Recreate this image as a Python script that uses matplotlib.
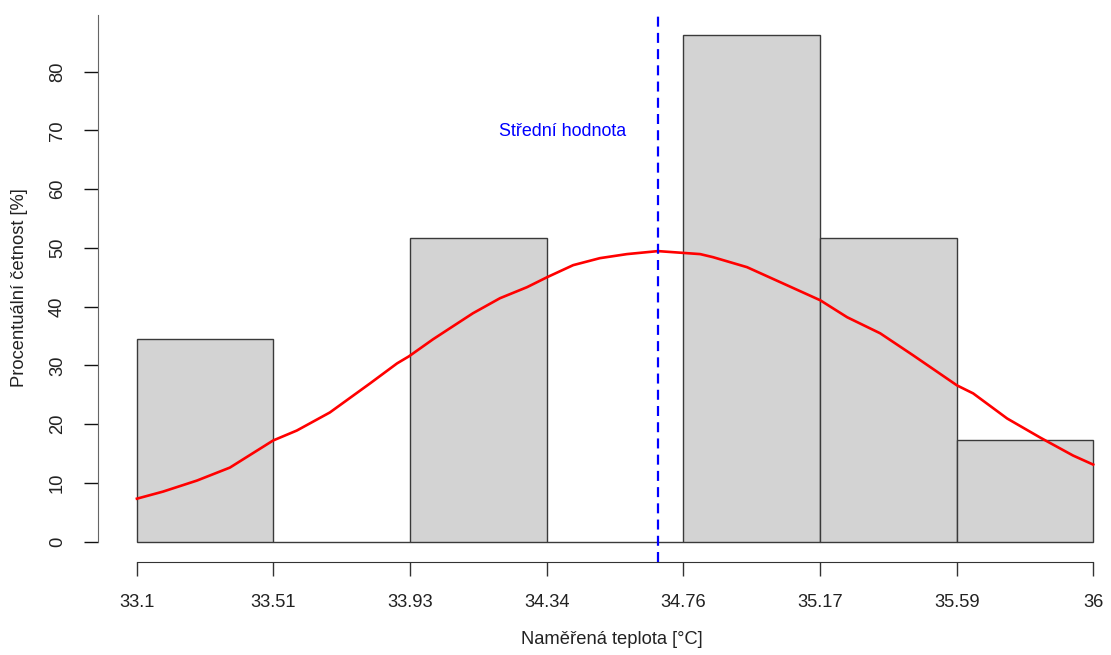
import matplotlib.pyplot as plt
import numpy as np

plt.rcParams['font.family'] = ['Liberation Sans', 'DejaVu Sans']

# --- data ---
breaks = [33.1, 33.514, 33.929, 34.343, 34.757, 35.171, 35.586, 36.0]
percent = [34.48, 0.0, 51.72, 0.0, 86.21, 51.72, 17.24]
tick_labels = ['33.1', '33.51', '33.93', '34.34', '34.76', '35.17', '35.59', '36']

# red density curve
curve_x = [33.100, 33.179, 33.282, 33.382, 33.513, 33.585, 33.685, 33.807, 33.889,
           33.925, 33.998, 34.049, 34.119, 34.201, 34.283, 34.344, 34.423, 34.504,
           34.586, 34.680, 34.808, 34.847, 34.950, 35.051, 35.172, 35.254, 35.354,
           35.454, 35.587, 35.636, 35.739, 35.839, 35.939, 36.000]
curve_y = [7.33, 8.53, 10.41, 12.62, 17.23, 18.93, 22.00, 26.95, 30.36,
           31.56, 34.46, 36.33, 38.89, 41.45, 43.33, 45.03, 47.08, 48.27,
           48.96, 49.47, 48.96, 48.44, 46.74, 44.18, 41.11, 38.21, 35.48,
           31.73, 26.61, 25.25, 20.98, 17.74, 14.67, 13.13]

mean_value = 34.68
mean_label = 'Střední hodnota'

W, H = 1111, 655
fig = plt.figure(figsize=(W / 100, H / 100), dpi=100)
# axes in pixel coordinates: left 98, right 1111, top 15, bottom 562
ax = fig.add_axes([98 / W, 1 - 562 / H, (1111 - 98) / W, (562 - 15) / H])

edges = np.array(breaks)
ax.bar(edges[:-1], percent, width=np.diff(edges), align='edge',
       color='#d3d3d3', edgecolor='#3a3a3a', linewidth=1.0, zorder=2)

ax.plot(curve_x, curve_y, color='red', linewidth=1.9, zorder=3)

ax.axvline(mean_value, color='blue', linewidth=1.6, linestyle=(0, (4.5, 2.8)), zorder=4)
ax.text(34.392, 69.9, mean_label, color='blue', fontsize=12.9, ha='center', va='center')

ax.set_xlim(32.982, 36.054)
ax.set_ylim(-3.45, 89.66)

for s in ['top', 'right']:
    ax.spines[s].set_visible(False)
ax.spines['left'].set_bounds(0, 89.66)
ax.spines['left'].set_color('#666666')
ax.spines['bottom'].set_bounds(breaks[0], breaks[-1])
ax.spines['bottom'].set_color('#333333')

ax.set_xticks(breaks)
ax.set_xticklabels(tick_labels, fontsize=13.2, color='#222222')
ax.set_yticks(np.arange(0, 81, 10))
ax.set_yticklabels([str(v) for v in range(0, 81, 10)], rotation=90, va='center',
                   fontsize=13.2, color='#222222')
ax.tick_params(axis='x', length=10, width=1, pad=13, color='#333333')
ax.tick_params(axis='y', length=10, width=1, pad=13, color='#111111')

fig.text(612 / W, 1 - 640 / H, 'Naměřená teplota [°C]', ha='center', va='center',
         fontsize=13.2, color='#222222')
fig.text(20 / W, 1 - 288 / H, 'Procentuální četnost [%]', ha='center', va='center',
         rotation=90, fontsize=13.2, color='#222222')

fig.savefig('out.png', dpi=100)
